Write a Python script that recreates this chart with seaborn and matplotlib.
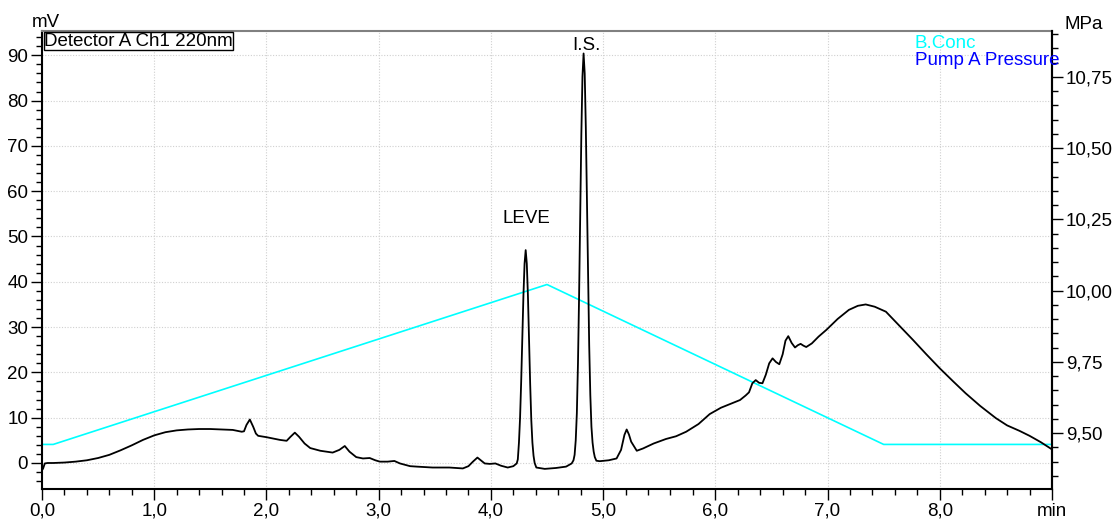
import numpy as np
import pandas as pd
import matplotlib
matplotlib.use("Agg")
import matplotlib.pyplot as plt
import seaborn as sns
from matplotlib.ticker import MultipleLocator, FixedLocator

# ---- data ----
time_min = [0.000, 0.010, 0.025, 0.050, 0.100, 0.200, 0.300, 0.400, 0.500, 0.600,
            0.700, 0.800, 0.900, 1.000, 1.100, 1.200, 1.300, 1.400, 1.500, 1.600,
            1.700, 1.780, 1.800, 1.822, 1.852, 1.882, 1.906, 1.926, 2.000, 2.120,
            2.180, 2.215, 2.253, 2.290, 2.340, 2.390, 2.480, 2.590, 2.650, 2.698,
            2.740, 2.800, 2.860, 2.920, 2.970, 3.010, 3.080, 3.140, 3.190, 3.280,
            3.340, 3.480, 3.630, 3.750, 3.800, 3.840, 3.880, 3.920, 3.945, 3.990,
            4.040, 4.090, 4.150, 4.200, 4.230, 4.240, 4.250, 4.260, 4.270, 4.280,
            4.290, 4.300, 4.310, 4.320, 4.330, 4.340, 4.350, 4.360, 4.370, 4.380,
            4.390, 4.405, 4.480, 4.580, 4.670, 4.720, 4.736, 4.746, 4.756, 4.766,
            4.776, 4.786, 4.796, 4.806, 4.816, 4.826, 4.836, 4.846, 4.856, 4.866,
            4.876, 4.886, 4.896, 4.906, 4.916, 4.926, 4.940, 4.970, 5.050, 5.120,
            5.160, 5.190, 5.210, 5.230, 5.250, 5.300, 5.355, 5.450, 5.560, 5.650,
            5.740, 5.850, 5.950, 6.050, 6.150, 6.220, 6.270, 6.300, 6.330, 6.360,
            6.390, 6.420, 6.450, 6.480, 6.510, 6.540, 6.570, 6.600, 6.625, 6.650,
            6.680, 6.710, 6.735, 6.760, 6.785, 6.810, 6.860, 6.920, 6.990, 7.090,
            7.190, 7.270, 7.340, 7.420, 7.520, 7.640, 7.760, 7.880, 8.000, 8.120,
            8.230, 8.360, 8.500, 8.600, 8.710, 8.800, 8.900, 9.000]
signal_mv = [-1.6, -1.2, -0.1, 0.0, 0.0, 0.1, 0.3, 0.6, 1.1, 1.8,
             2.8, 3.9, 5.1, 6.1, 6.8, 7.2, 7.4, 7.5, 7.5, 7.4,
             7.3, 6.9, 7.0, 8.4, 9.6, 8.0, 6.5, 6.0, 5.7, 5.1,
             4.9, 5.8, 6.7, 5.8, 4.3, 3.3, 2.7, 2.3, 2.9, 3.75,
             2.5, 1.3, 1.0, 1.1, 0.6, 0.3, 0.3, 0.45, -0.1, -0.7,
             -0.8, -1.0, -1.0, -1.2, -0.7, 0.3, 1.2, 0.4, -0.1, -0.2,
             -0.1, -0.6, -1.0, -0.7, -0.1, 0.8, 4.5, 10.0, 18.0, 27.5,
             37.0, 44.0, 47.0, 44.0, 37.0, 27.0, 17.5, 9.5, 4.5, 1.6,
             0.0, -1.0, -1.3, -1.1, -0.8, -0.1, 0.6, 1.8, 5.0, 11.0,
             22.0, 37.0, 55.0, 72.5, 85.3, 90.4, 86.0, 74.0, 57.5, 40.5,
             26.0, 15.0, 8.0, 4.5, 2.5, 1.3, 0.5, 0.4, 0.6, 1.0,
             2.9, 6.2, 7.4, 6.3, 4.7, 2.7, 3.2, 4.3, 5.3, 5.9,
             6.9, 8.6, 10.8, 12.2, 13.2, 13.9, 14.9, 15.6, 17.6, 18.3,
             17.7, 17.6, 19.5, 22.0, 23.1, 22.3, 21.8, 24.0, 27.0, 28.0,
             26.5, 25.5, 26.0, 26.3, 25.9, 25.6, 26.4, 27.9, 29.4, 31.8,
             33.8, 34.7, 35.0, 34.5, 33.4, 30.3, 27.2, 24.0, 20.9, 18.0,
             15.4, 12.6, 9.9, 8.3, 7.1, 6.0, 4.6, 3.0]

bconc_time = [0.0, 0.1, 4.5, 7.5, 9.0]
bconc_val = [4.1, 4.1, 39.4, 4.1, 4.1]

x_ticks = [0, 1, 2, 3, 4, 5, 6, 7, 8, 9]
x_labels = ["0,0", "1,0", "2,0", "3,0", "4,0", "5,0", "6,0", "7,0", "8,0", "min"]
left_ticks = [0, 10, 20, 30, 40, 50, 60, 70, 80, 90]
right_ticks = [9.50, 9.75, 10.00, 10.25, 10.50, 10.75]
right_labels = ["9,50", "9,75", "10,00", "10,25", "10,50", "10,75"]

peak_names = ["LEVE", "I.S."]
peak_label_time = [4.32, 4.853]
peak_label_mv = [53.0, 91.2]

chrom = pd.DataFrame({"time": time_min, "mV": signal_mv})
grad = pd.DataFrame({"time": bconc_time, "val": bconc_val})

# ---- style ----
sns.set_theme(style="white")
plt.rcParams["font.family"] = ["Liberation Sans", "DejaVu Sans"]
FS = 13.5

W, H = 1114, 520
fig = plt.figure(figsize=(W / 100, H / 100), dpi=100)
ax = fig.add_axes([42 / W, 1 - 489 / H, (1052 - 42) / W, (489 - 31) / H])

sns.lineplot(data=grad, x="time", y="val", ax=ax, color="#00FFFF", lw=1.2,
             estimator=None, sort=False)
sns.lineplot(data=chrom, x="time", y="mV", ax=ax, color="black", lw=1.3,
             estimator=None, sort=False)

ax.set_xlim(0, 9)
ax.set_ylim(-5.74, 95.36)
ax.set_xlabel("")
ax.set_ylabel("")

ax.xaxis.set_major_locator(FixedLocator(x_ticks))
ax.set_xticklabels(x_labels)
ax.xaxis.set_minor_locator(MultipleLocator(0.2))
ax.yaxis.set_major_locator(FixedLocator(left_ticks))
ax.set_yticklabels([str(v) for v in left_ticks])
ax.yaxis.set_minor_locator(MultipleLocator(2))

ax.grid(True, which="major", color="#d0d0d0", linestyle=(0, (1, 1.5)), linewidth=0.8)
ax.tick_params(axis="both", which="major", direction="out", length=8, width=1,
               color="black", labelsize=FS, labelcolor="black", bottom=True, left=True, pad=2)
ax.tick_params(axis="both", which="minor", direction="out", length=4, width=1,
               color="black", bottom=True, left=True)

for side in ["left", "bottom", "right"]:
    ax.spines[side].set_color("black")
    ax.spines[side].set_linewidth(1.5)
ax.spines["top"].set_color("#808080")
ax.spines["top"].set_linewidth(1.5)

ax2 = ax.twinx()
ax2.set_ylim(9.304, 10.911)
ax2.yaxis.set_major_locator(FixedLocator(right_ticks))
ax2.set_yticklabels(right_labels)
ax2.yaxis.set_minor_locator(MultipleLocator(0.05))
ax2.tick_params(axis="y", which="major", direction="out", length=8, width=1,
                color="black", labelsize=FS, labelcolor="black", right=True, pad=2)
ax2.tick_params(axis="y", which="minor", direction="out", length=4, width=1,
                color="black", right=True)
ax2.grid(False)
for side in ["left", "top", "bottom"]:
    ax2.spines[side].set_visible(False)
ax2.spines["right"].set_color("black")
ax2.spines["right"].set_linewidth(1.5)

# unit labels
fig.text(32 / W, 1 - 27 / H, "mV", fontsize=FS, va="baseline", ha="left", color="black")
fig.text(1065 / W, 1 - 29 / H, "MPa", fontsize=FS, va="baseline", ha="left", color="black")

# detector label with box
ax.text(0.002, 0.996, "Detector A Ch1 220nm", transform=ax.transAxes,
        fontsize=FS, va="top", ha="left", color="black",
        bbox=dict(boxstyle="square,pad=0.02", facecolor="white", edgecolor="black", linewidth=1))

# legend texts
fig.text(915 / W, 1 - 48 / H, "B.Conc", fontsize=FS, color="#00FFFF", va="baseline", ha="left")
fig.text(915 / W, 1 - 65 / H, "Pump A Pressure", fontsize=FS, color="#0000FF", va="baseline", ha="left")

# peak annotations
for name, t, v in zip(peak_names, peak_label_time, peak_label_mv):
    ax.text(t, v, name, fontsize=FS, ha="center", va="baseline", color="black")

fig.savefig("out.png", dpi=100)
